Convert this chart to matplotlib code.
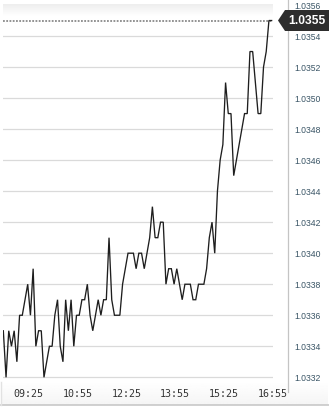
import numpy as np
import matplotlib
matplotlib.use("Agg")
import matplotlib.pyplot as plt
from matplotlib.lines import Line2D
from matplotlib.patches import Polygon

# data (5 minute closes)
start_time = "08:38"
step_min = 5
prices = [
    1.0335, 1.0332, 1.0335, 1.0334, 1.0335, 1.0333, 1.0336, 1.0336, 1.0337, 1.0338,
    1.0336, 1.0339, 1.0334, 1.0335, 1.0335, 1.0332, 1.0333, 1.0334, 1.0334, 1.0336,
    1.0337, 1.0334, 1.0333, 1.0337, 1.0335, 1.0337, 1.0334, 1.0336, 1.0336, 1.0337,
    1.0337, 1.0338, 1.0336, 1.0335, 1.0336, 1.0337, 1.0336, 1.0337, 1.0337, 1.0341,
    1.0337, 1.0336, 1.0336, 1.0336, 1.0338, 1.0339, 1.0340, 1.0340, 1.0340, 1.0339,
    1.0340, 1.0340, 1.0339, 1.0340, 1.0341, 1.0343, 1.0341, 1.0341, 1.0342, 1.0342,
    1.0338, 1.0339, 1.0339, 1.0338, 1.0339, 1.0338, 1.0337, 1.0338, 1.0338, 1.0338,
    1.0337, 1.0337, 1.0338, 1.0338, 1.0338, 1.0339, 1.0341, 1.0342, 1.0340, 1.0344,
    1.0346, 1.0347, 1.0351, 1.0349, 1.0349, 1.0345, 1.0346, 1.0347, 1.0348, 1.0349,
    1.0349, 1.0353, 1.0353, 1.0351, 1.0349, 1.0349, 1.0352, 1.0353, 1.0355, 1.0355,
]
last_price = 1.0355
x_labels = ["09:25", "10:55", "12:25", "13:55", "15:25", "16:55"]
y_ticks = [1.0332, 1.0334, 1.0336, 1.0338, 1.0340, 1.0342, 1.0344,
           1.0346, 1.0348, 1.0350, 1.0352, 1.0354, 1.0356]


def to_min(s):
    h, m = s.split(":")
    return int(h) * 60 + int(m)


t0 = to_min(start_time)
times = np.array([t0 + step_min * i for i in range(len(prices))])
tick_pos = [to_min(s) for s in x_labels]

W, H = 329, 411
fig = plt.figure(figsize=(W / 100, H / 100), dpi=100)
fig.patch.set_facecolor("white")

# axes in pixel box
left, right, top, bottom = 3, 273, 0, 382
ax = fig.add_axes([left / W, 1 - bottom / H, (right - left) / W, (bottom - top) / H])
ax.set_facecolor("white")

ymax = 1.0354 + 36 / 15.5 * 0.0001
ymin = 1.0332 - (382 - 377.3) / 15.5 * 0.0001
ax.set_ylim(ymin, ymax)
ax.set_xlim(517.4, 1015.5)

# top gradient band
yb0 = 1.0354 + (36 - 5) / 15.5 * 0.0001
yb1 = 1.0354 + (36 - 16) / 15.5 * 0.0001
grad = np.linspace(0.93, 1.0, 50).reshape(-1, 1)
ax.imshow(grad, cmap="gray", vmin=0, vmax=1, aspect="auto",
          extent=(517.4, 1015.5, yb1, yb0), origin="upper", zorder=0)

for yv in y_ticks[:-1]:
    ax.axhline(yv, color="#dadada", lw=0.9, zorder=1)

ax.plot(times, prices, color="#1e1e1e", lw=0.95, zorder=3, solid_joinstyle="miter")
ax.plot([times[0], times[-1]], [last_price, last_price], color="#8a8a8a",
        lw=1.3, linestyle=(0, (1.0, 0.8)), zorder=2)

for s in ax.spines.values():
    s.set_visible(False)

ax.yaxis.tick_right()
ax.set_yticks(y_ticks)
ax.set_yticklabels(["%.4f" % v for v in y_ticks], family="Liberation Sans",
                   fontsize=6.2, color="#3a5566")
ax.tick_params(axis="y", length=0, pad=15.5)

ax.set_xticks(tick_pos)
ax.set_xticklabels(x_labels, family="DejaVu Sans Mono", fontsize=7.2, color="#333333")
ax.tick_params(axis="x", length=0, pad=5.2)


def fx(px):
    return px / W


def fy(py):
    return 1 - py / H


# bottom label strip gradient and frame
ax2 = fig.add_axes([fx(1), fy(405), fx(328) - fx(1), fy(382) - fy(405)], zorder=-1)
ax2.imshow(np.linspace(1.0, 0.96, 30).reshape(-1, 1), cmap="gray", vmin=0, vmax=1,
           aspect="auto", extent=(0, 1, 0, 1))
ax2.axis("off")
fig.add_artist(Line2D([fx(1), fx(329)], [fy(405), fy(405)], color="#c8c8c8", lw=1.2))
fig.add_artist(Line2D([fx(1), fx(1)], [fy(382), fy(405)], color="#e2e2e2", lw=1.0))

# right axis line
fig.add_artist(Line2D([fx(287.7), fx(287.7)], [fy(0), fy(392)], color="#c4c4c4", lw=0.9))

# last price marker box
box = Polygon([(fx(278), fy(20.5)), (fx(285), fy(10)), (fx(329), fy(10)),
               (fx(329), fy(31)), (fx(285), fy(31))],
              closed=True, transform=fig.transFigure, facecolor="#2d2d2d",
              edgecolor="none", zorder=10)
fig.add_artist(box)
fig.text(fx(306.5), fy(20.5), "%.4f" % last_price, color="white", fontsize=8.7,
         fontweight="bold", family="Liberation Sans", ha="center", va="center", zorder=11)

fig.savefig("out.png", dpi=100)
